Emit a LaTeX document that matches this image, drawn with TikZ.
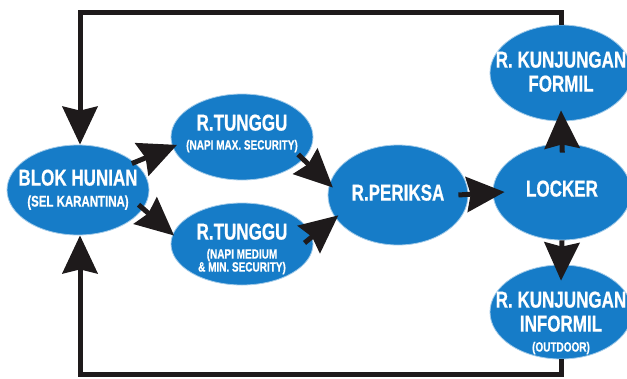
\documentclass[tikz,border=0pt]{standalone}
\usepackage{fontspec}
\newfontfamily\cf{Liberation Sans}[FakeStretch=0.74,BoldFeatures={FakeBold=0.6}]
\usetikzlibrary{arrows.meta,shapes.geometric}
\definecolor{eblue}{RGB}{22,124,200}
\definecolor{ink}{RGB}{30,26,27}
\tikzset{
  ell/.style={ellipse, fill=eblue, draw=eblue!40, line width=0.8pt, inner sep=0pt},
  lbl/.style={inner sep=0pt, text=white, font=\cf\bfseries, text height=0.716em, text depth=0pt},
  big/.style={lbl, font=\cf\bfseries\fontsize{23}{24}\selectfont},
  sml/.style={lbl, font=\cf\bfseries\fontsize{13.5}{14}\selectfont},
  mid/.style={lbl, font=\cf\bfseries\fontsize{15.5}{16}\selectfont},
  arr/.style={draw=ink, line width=5pt, line join=miter, -{Stealth[length=38pt,width=35pt,inset=4pt]}},
}
\begin{document}
\begin{tikzpicture}[x=1pt,y=-1pt]
\useasboundingbox (0,0) rectangle (627,378);
\clip (0,0) rectangle (627,378);
\fill[white] (0,0) rectangle (627,378);
% ellipses
\node[ell, minimum width=142pt, minimum height=90pt] (blok) at (78,190) {};
\node[ell, minimum width=142pt, minimum height=86pt] (tu1) at (242,137) {};
\node[ell, minimum width=142pt, minimum height=82pt] (tu2) at (242,244) {};
\node[ell, minimum width=140pt, minimum height=100pt] (periksa) at (398,195) {};
\node[ell, minimum width=138pt, minimum height=96pt] (locker) at (562,192) {};
\node[ell, minimum width=142pt, minimum height=96pt] (formil) at (561,73) {};
\node[ell, minimum width=142pt, minimum height=94pt] (informil) at (561,312) {};
% labels
\node[big] (blokA) at ([yshift=8pt]blok.center) {BLOK HUNIAN};
\node[mid] (blokB) at ([yshift=-13pt]blok.center) {(SEL KARANTINA)};
\node[big] (tu1A) at ([yshift=10pt]tu1.center) {R.TUNGGU};
\node[sml] (tu1B) at ([yshift=-9pt]tu1.center) {(NAPI MAX. SECURITY)};
\node[big] (tu2A) at ([yshift=8pt]tu2.center) {R.TUNGGU};
\node[sml] (tu2B) at ([yshift=-11pt]tu2.center) {(NAPI MEDIUM};
\node[sml] (tu2C) at ([yshift=-24pt]tu2.center) {\& MIN. SECURITY)};
\node[big] (periksaA) at ([yshift=-2pt]periksa.center) {R.PERIKSA};
\node[big] (lockerA) at ([yshift=-1pt]locker.center) {LOCKER};
\node[big] (formilA) at ([yshift=9pt]formil.center) {R. KUNJUNGAN};
\node[big] (formilB) at ([yshift=-15pt]formil.center) {FORMIL};
\node[big] (informilA) at ([yshift=8pt]informil.center) {R. KUNJUNGAN};
\node[big] (informilB) at ([yshift=-16pt]informil.center) {INFORMIL};
\node[sml] (informilC) at ([yshift=-36pt]informil.center) {(OUTDOOR)};
% frame corners
\coordinate (c1) at (80,12);
\coordinate (c2) at (561,12);
\coordinate (c3) at (80,374);
\coordinate (c4) at (561,374);
% connectors
\draw[arr] (formil.north) -- (c2) -- (c1) -- (c1 |- blok.north);
\draw[arr] (informil.south) -- (c4) -- (c3) -- (c3 |- blok.south);
\draw[arr, shorten <=-3pt, shorten >=-5pt] (blok.26) -- (tu1.188);
\draw[arr, shorten <=-6pt, shorten >=-2pt] (blok.-16) -- (tu2.172);
\draw[arr, shorten <=-7pt, shorten >=-5pt] (tu1.-20) -- (periksa.171);
\draw[arr, shorten <=-10pt, shorten >=-4pt] (tu2.6) -- (periksa.200);
\draw[arr] ([xshift=-10pt]periksa.east) -- ([xshift=12pt]locker.west);
\draw[arr, shorten <=-9pt] (locker.north) -- ([yshift=11pt]formil.south);
\draw[arr] (locker.south) -- ([yshift=-16pt]informil.north);
\end{tikzpicture}
\end{document}
